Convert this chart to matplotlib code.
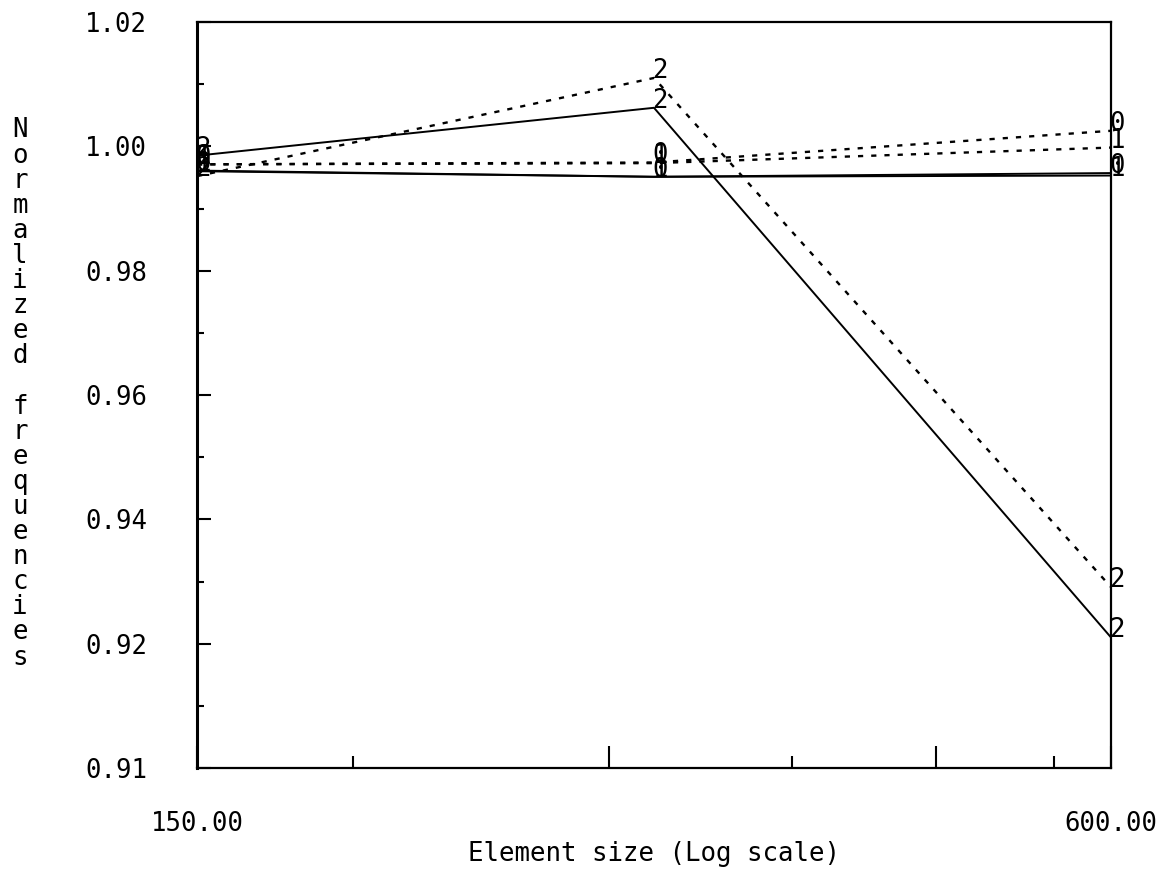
import matplotlib
matplotlib.use("Agg")
import matplotlib.pyplot as plt
from matplotlib.ticker import FixedLocator, FixedFormatter, NullFormatter

# ---- data ----
element_sizes = [150, 300, 600]
solid_mode0 = [0.9961, 0.9951, 0.9957]
solid_mode1 = [0.9960, 0.9951, 0.9953]
solid_mode2 = [0.9985, 1.0062, 0.9210]
dotted_mode0 = [0.9971, 0.9974, 1.0025]
dotted_mode1 = [0.9971, 0.9973, 0.9998]
dotted_mode2 = [0.9952, 1.0110, 0.9291]

y_major = [0.90, 0.92, 0.94, 0.96, 0.98, 1.00, 1.02]
y_labels = ["0.91", "0.92", "0.94", "0.96", "0.98", "1.00", "1.02"]
y_minor = [0.91, 0.93, 0.95, 0.97, 0.99, 1.01]
x_major = [150, 280, 460, 600]
x_labels = ["150.00", "", "", "600.00"]
x_minor = [190, 370, 550]

FONT = "DejaVu Sans Mono"
FS = 18.5

fig = plt.figure(figsize=(11.64, 8.89), dpi=100)
ax = fig.add_axes([197/1164, 1-768/889, (1111-197)/1164, (768-22)/889])

series = [
    (solid_mode0, "-", "0"),
    (solid_mode1, "-", "1"),
    (solid_mode2, "-", "2"),
    (dotted_mode0, "dotted", "0"),
    (dotted_mode1, "dotted", "1"),
    (dotted_mode2, "dotted", "2"),
]
for vals, style, lab in series:
    if style == "-":
        ax.plot(element_sizes, vals, color="black", lw=1.4, solid_joinstyle="miter")
    else:
        ax.plot(element_sizes, vals, color="black", lw=1.7, dashes=(2.2, 3.4))
    for xv, yv in zip(element_sizes, vals):
        ax.annotate(lab, (xv, yv), xytext=(-1, 0), textcoords="offset points",
                    ha="left", va="baseline", fontsize=FS, family=FONT,
                    color="black", annotation_clip=False)

ax.set_xscale("log")
ax.set_xlim(150, 600)
ax.set_ylim(0.90, 1.02)

ax.xaxis.set_major_locator(FixedLocator(x_major))
ax.xaxis.set_major_formatter(FixedFormatter(x_labels))
ax.xaxis.set_minor_locator(FixedLocator(x_minor))
ax.xaxis.set_minor_formatter(NullFormatter())
ax.yaxis.set_major_locator(FixedLocator(y_major))
ax.yaxis.set_major_formatter(FixedFormatter(y_labels))
ax.yaxis.set_minor_locator(FixedLocator(y_minor))

ax.tick_params(axis="x", which="major", direction="in", length=16, width=1.5,
               pad=31, labelsize=FS, top=False)
ax.tick_params(axis="x", which="minor", direction="in", length=9, width=1.5, top=False)
ax.tick_params(axis="y", which="major", direction="in", length=10, width=1.5,
               pad=36, labelsize=FS, right=False)
ax.tick_params(axis="y", which="minor", direction="in", length=5, width=1.5, right=False)
for lbl in ax.get_xticklabels() + ax.get_yticklabels():
    lbl.set_family(FONT)

for sp in ax.spines.values():
    sp.set_linewidth(1.6)
ax.spines["left"].set_linewidth(2.2)

ax.set_xlabel("Element size (Log scale)", fontsize=FS, family=FONT, labelpad=3)

ylabel = "\n".join("Normalized frequencies")
fig.text(20/1164, 1-394/889, ylabel, ha="center", va="center", fontsize=FS,
         family=FONT, linespacing=0.955)

fig.savefig("out.png", dpi=100, facecolor="white")
